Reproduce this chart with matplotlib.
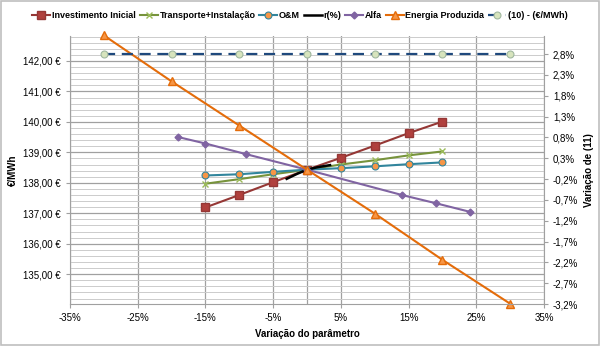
import matplotlib
matplotlib.use("Agg")
import matplotlib.pyplot as plt
from matplotlib.patches import Rectangle
from matplotlib.ticker import FuncFormatter, MultipleLocator

plt.rcParams["font.family"] = ["Liberation Sans", "DejaVu Sans"]
plt.rcParams["font.size"] = 7

# --- data (x = % variation, y = €/MWh) ---
inv_x = [-15, -10, -5, 0, 5, 10, 15, 20]
inv_y = [137.19, 137.60, 138.02, 138.43, 138.82, 139.22, 139.63, 140.01]

trans_x = [-15, -10, -5, 0, 5, 10, 15, 20]
trans_y = [137.97, 138.12, 138.28, 138.43, 138.60, 138.74, 138.90, 139.03]

om_x = [-15, -10, -5, 0, 5, 10, 15, 20]
om_y = [138.24, 138.28, 138.36, 138.43, 138.48, 138.54, 138.61, 138.67]

r_x = [-3, -1.5, 0, 1.5, 3.4]
r_y = [138.13, 138.29, 138.43, 138.51, 138.58]

alfa_x = [-19, -15, -9, 0, 14, 19, 24]
alfa_y = [139.50, 139.29, 138.94, 138.43, 137.60, 137.33, 137.05]

energia_x = [-30, -20, -10, 0, 10, 20, 30]
energia_y = [142.84, 141.33, 139.88, 138.43, 136.99, 135.47, 134.03]

ref_x = [-30, -20, -10, 0, 10, 20, 30]
ref_y = [142.24, 142.24, 142.24, 142.24, 142.24, 142.24, 142.24]

x_ticks = [-35, -25, -15, -5, 5, 15, 25, 35]
right_ticks = [-3.2, -2.7, -2.2, -1.7, -1.2, -0.7, -0.2, 0.3, 0.8, 1.3, 1.8, 2.3, 2.8]

fig = plt.figure(figsize=(6.0, 3.46), dpi=100)
ax = fig.add_axes([70 / 600, 1 - 304 / 346, 474 / 600, 268 / 346])
ax2 = ax.twinx()

grid_major = "#a0a0a0"
grid_minor = "#cccccc"

ax.set_xlim(-35, 35)
ax.set_ylim(134.02, 142.82)
ax.set_xticks(x_ticks)
ax.yaxis.set_major_locator(MultipleLocator(1))
ax.yaxis.set_minor_locator(MultipleLocator(0.2))
ax.grid(True, which="minor", axis="y", color=grid_minor, lw=0.7)
ax.grid(True, which="major", axis="y", color=grid_major, lw=0.9)
ax.grid(True, which="major", axis="x", color=grid_major, lw=0.9)
ax.axvline(0, color=grid_major, lw=0.9, zorder=0.5)
ax.set_axisbelow(True)

ax.yaxis.set_major_formatter(FuncFormatter(lambda v, p: f"{v:.2f} €".replace(".", ",")))
ax.xaxis.set_major_formatter(FuncFormatter(lambda v, p: f"{v:.0f}%"))
ax.tick_params(which="minor", length=0)
ax.tick_params(which="major", length=3, color=grid_major, labelsize=7)

ax2.set_ylim(-3.2, 3.232)
ax2.set_yticks(right_ticks)
ax2.yaxis.set_major_formatter(FuncFormatter(lambda v, p: f"{v:.1f}%".replace(".", ",")))
ax2.tick_params(length=3, color=grid_major, labelsize=7)

for a in (ax, ax2):
    for s in a.spines.values():
        s.set_visible(False)
ax.spines["bottom"].set_visible(True)
ax.spines["bottom"].set_color(grid_major)
ax.spines["left"].set_visible(True)
ax.spines["left"].set_color(grid_major)
ax2.spines["right"].set_visible(True)
ax2.spines["right"].set_color(grid_major)

ax.plot(inv_x, inv_y, color="#953735", lw=1.5, marker="s", ms=5.5,
        mfc="#b0403d", mec="#953735", label="Investimento Inicial")
ax.plot(trans_x, trans_y, color="#77933c", lw=1.5, marker="x", ms=5,
        mec="#9bbb59", mew=1, label="Transporte+Instalação")
ax.plot(om_x, om_y, color="#31859c", lw=1.5, marker="o", ms=5,
        mfc="#f79646", mec="#31859c", mew=0.8, label="O&M")
ax.plot(r_x, r_y, color="black", lw=1.8, label="r(%)")
ax.plot(alfa_x, alfa_y, color="#8064a2", lw=1.5, marker="D", ms=3.5,
        mfc="#8064a2", mec="#8064a2", label="Alfa")
ax.plot(energia_x, energia_y, color="#e46c0a", lw=1.5, marker="^", ms=6,
        mfc="#f79646", mec="#e46c0a", label="Energia Produzida", clip_on=False)
ax.plot(ref_x, ref_y, color="#1f497d", lw=1.6, ls=(0, (5, 3)), marker="o", ms=5,
        mfc="#d7e4bd", mec="#a0b8a0", mew=0.8, label="(10) - (€/MWh)")

ax.set_ylabel("€/MWh", fontweight="bold", fontsize=7, labelpad=4)
ax2.set_ylabel("Variação de (11)", fontweight="bold", fontsize=7, labelpad=4)
ax.set_xlabel("Variação do parâmetro", fontweight="bold", fontsize=7, labelpad=4)

leg = fig.legend(loc="center", bbox_to_anchor=(0.5, 1 - 16 / 346), ncol=7,
                 frameon=False, handlelength=2.0, handletextpad=0.2,
                 columnspacing=0.4, prop={"weight": "bold", "size": 6.5})

fig.patches.append(Rectangle((0.002, 0.003), 0.996, 0.994, transform=fig.transFigure,
                             fill=False, edgecolor="#bfbfbf", lw=1.2))

fig.savefig("out.png", dpi=100)
